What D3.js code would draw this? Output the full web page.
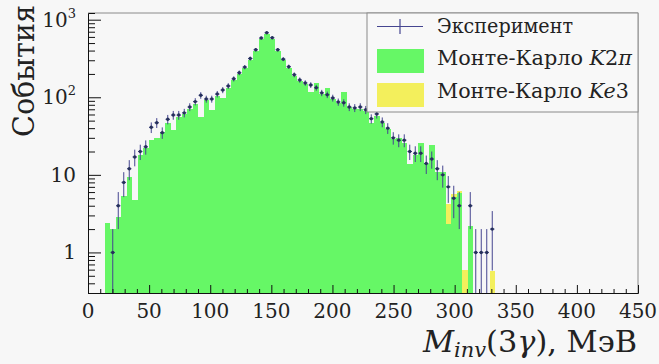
<!DOCTYPE html>
<html>
<head>
<meta charset="utf-8">
<script src="https://cdn.jsdelivr.net/npm/d3@7"></script>
<style>
  html, body { margin: 0; padding: 0; background: #f7f7f7; }
  svg { display: block; }
  text { font-family: "DejaVu Serif", "Liberation Serif", "Noto Serif", "Times New Roman", serif; fill: #222; }
</style>
</head>
<body>
<div id="chart"></div>
<script>
// lower edge of each 4.5 MeV bin, MeV
const binLow = [13.5, 18, 22.5, 27, 31.5, 36, 40.5, 45, 49.5, 54, 58.5, 63, 67.5, 72, 76.5,
  81, 85.5, 90, 94.5, 99, 103.5, 108, 112.5, 117, 121.5, 126, 130.5, 135, 139.5, 144, 148.5,
  153, 157.5, 162, 166.5, 171, 175.5, 180, 184.5, 189, 193.5, 198, 202.5, 207, 211.5, 216,
  220.5, 225, 229.5, 234, 238.5, 243, 247.5, 252, 256.5, 261, 265.5, 270, 274.5, 279, 283.5,
  288, 292.5, 297, 301.5, 306, 310.5, 315, 319.5, 324, 328.5];
const binWidth = 4.5;

// experiment (events per bin)
const expCounts = [0, 1, 4, 8, 12, 17, 20, 23, 41, 47, 35, 52, 59, 59, 63,
  75, 88, 106, 95, 95, 110, 124, 140, 173, 207, 245, 316, 410, 580, 680, 585,
  410, 310, 248, 195, 167, 153, 144, 133, 114, 108, 98, 87, 85, 75, 73,
  75, 69, 53, 61, 48, 40, 30, 28, 28, 20, 19, 19, 14, 16, 12,
  10, 7, 5, 4, 0, 4, 1, 1, 1, 2];

// Monte-Carlo K2pi
const mcK2pi = [2.4, 2.0, 2.9, 5.3, 9.3, 4.7, 18, 22, 28, 30, 36, 46, 38, 55, 60,
  70, 82, 55, 92, 68, 104, 98, 132, 165, 200, 238, 305, 400, 560, 660, 570,
  400, 300, 240, 190, 160, 148, 118, 155, 110, 133, 95, 84, 117, 74, 70,
  70, 66, 46, 58, 46, 39, 29, 30, 26, 14, 18, 26, 14, 24, 11,
  11, 2.3, 5.2, 5.8, 0, 2.2, 0, 0, 0, 0];

// Monte-Carlo Ke3 (stacked on top)
const mcKe3 = [0, 0, 0, 0, 0, 0, 0, 0, 0, 0, 0, 0, 0, 0, 0,
  0, 0, 0, 0, 0, 0, 0, 0, 0, 0, 0, 0, 0, 0, 0, 0,
  0, 0, 0, 0, 0, 0, 0, 0, 0, 0, 0, 0, 0, 0, 0,
  0, 0, 0, 0, 0, 0, 0, 0, 0, 0, 0, 0, 0, 0, 0,
  0, 1.9, 0.4, 0.4, 0.6, 0, 0, 0, 0, 0.58];

const xTicks = [0, 50, 100, 150, 200, 250, 300, 350, 400, 450];
const yTickValues = [1, 10, 100, 1000];
const yTickBase = ["1", "10", "10", "10"];
const yTickExp = ["", "", "2", "3"];
const legendLabels = ["Эксперимент", "Монте-Карло ", "Монте-Карло "];

const W = 659, H = 364;
const margin = { top: 13, right: 21, bottom: 71, left: 88 };
const width = W - margin.left - margin.right;
const height = H - margin.top - margin.bottom;
const green = "#66f766", yellow = "#f3ef5c", dataColor = "#454590";
const yMin = 0.3, yMax = 1220;

const svg = d3.select("#chart").append("svg")
  .attr("width", W).attr("height", H);

const g = svg.append("g")
  .attr("transform", `translate(${margin.left},${margin.top})`);

const x = d3.scaleLinear().domain([0, 450]).range([0, width]);
const y = d3.scaleLog().domain([yMin, yMax]).range([height, 0]);

const bins = binLow.map((lo, i) => ({
  lo, hi: lo + binWidth, n: expCounts[i], k2pi: mcK2pi[i], ke3: mcKe3[i]
}));

// K2pi histogram
g.append("g").selectAll("rect")
  .data(bins.filter(d => d.k2pi > yMin))
  .join("rect")
  .attr("x", d => x(d.lo))
  .attr("width", d => x(d.hi) - x(d.lo) + 0.3)
  .attr("y", d => y(d.k2pi))
  .attr("height", d => height - y(d.k2pi))
  .attr("fill", green)
  .attr("shape-rendering", "crispEdges");

// Ke3 stacked
g.append("g").selectAll("rect")
  .data(bins.filter(d => d.ke3 > 0))
  .join("rect")
  .attr("x", d => x(d.lo))
  .attr("width", d => x(d.hi) - x(d.lo))
  .attr("y", d => y(d.k2pi + d.ke3))
  .attr("height", d => y(Math.max(d.k2pi, yMin)) - y(d.k2pi + d.ke3))
  .attr("fill", yellow)
  .attr("shape-rendering", "crispEdges");

// experiment points with errors
const pts = g.append("g").selectAll("g")
  .data(bins.filter(d => d.n > 0))
  .join("g");

pts.append("line")
  .attr("x1", d => x(d.lo) + 0.5).attr("x2", d => x(d.hi) - 0.5)
  .attr("y1", d => y(d.n)).attr("y2", d => y(d.n))
  .attr("stroke", dataColor).attr("stroke-width", 1);

pts.append("line")
  .attr("x1", d => x(d.lo + binWidth / 2)).attr("x2", d => x(d.lo + binWidth / 2))
  .attr("y1", d => y(Math.max(d.n - Math.sqrt(d.n), yMin)))
  .attr("y2", d => y(d.n + Math.sqrt(d.n)))
  .attr("stroke", dataColor).attr("stroke-width", 1);

pts.append("circle")
  .attr("cx", d => x(d.lo + binWidth / 2))
  .attr("cy", d => y(d.n))
  .attr("r", 1.7)
  .attr("fill", "#25305a");

// frame
g.append("path")
  .attr("d", `M0,0H${width}V${height}`)
  .attr("fill", "none").attr("stroke", "#8a8a8a").attr("stroke-width", 1);

// x axis (ticks inside)
const xAxisG = g.append("g")
  .attr("transform", `translate(0,${height})`)
  .call(d3.axisBottom(x).tickValues(d3.range(0, 451, 10)).tickSize(-4).tickFormat(""));
xAxisG.selectAll(".tick line")
  .attr("y2", d => xTicks.includes(d) ? -8 : -4);
xAxisG.select(".domain").attr("stroke", "#111");
xAxisG.selectAll(".tick line").attr("stroke", "#111");

g.append("g").selectAll("text")
  .data(xTicks)
  .join("text")
  .attr("x", d => x(d))
  .attr("y", height + 25)
  .attr("text-anchor", "middle")
  .attr("font-size", 20)
  .text(d => d);

// y axis (log, ticks inside)
const minor = [];
for (let p = -1; p <= 3; p++) {
  for (let m = 1; m <= 9; m++) {
    const v = m * Math.pow(10, p);
    if (v >= yMin && v <= yMax) minor.push(v);
  }
}
const yAxisG = g.append("g")
  .call(d3.axisLeft(y).tickValues(minor).tickSize(-7).tickFormat(""));
yAxisG.selectAll(".tick line")
  .attr("x2", d => yTickValues.includes(d) ? 13 : 7)
  .attr("stroke", "#111");
yAxisG.select(".domain").attr("stroke", "#111");

const yLab = g.append("g").selectAll("text")
  .data(yTickValues)
  .join("text")
  .attr("x", -12)
  .attr("y", d => y(d) + 7)
  .attr("text-anchor", "end")
  .attr("font-size", 20);
yLab.append("tspan").text((d, i) => yTickBase[i]);
yLab.append("tspan")
  .attr("dy", -9).attr("font-size", 13)
  .text((d, i) => yTickExp[i]);

// axis titles
svg.append("text")
  .attr("transform", "translate(34,71) rotate(-90)")
  .attr("text-anchor", "middle")
  .attr("font-size", 29)
  .attr("textLength", 132).attr("lengthAdjust", "spacingAndGlyphs")
  .text("События");

const xt = svg.append("text")
  .attr("x", 423).attr("y", 352)
  .attr("font-size", 29)
  .attr("textLength", 214).attr("lengthAdjust", "spacingAndGlyphs");
xt.append("tspan").attr("font-style", "italic").text("M");
xt.append("tspan").attr("font-style", "italic").attr("font-size", 20).attr("dy", 5).text("inv");
xt.append("tspan").attr("dy", -5).text("(3");
xt.append("tspan").attr("font-style", "italic").text("γ");
xt.append("tspan").text("), МэВ");

// legend
const lg = svg.append("g");
lg.append("rect")
  .attr("x", 367).attr("y", 13).attr("width", 271).attr("height", 99)
  .attr("fill", "#f8f8f8").attr("stroke", "#8a8a8a").attr("stroke-width", 1);

lg.append("line").attr("x1", 377).attr("x2", 423).attr("y1", 26.5).attr("y2", 26.5)
  .attr("stroke", dataColor).attr("stroke-width", 1.2);
lg.append("line").attr("x1", 400).attr("x2", 400).attr("y1", 19).attr("y2", 34)
  .attr("stroke", dataColor).attr("stroke-width", 1.2);
lg.append("rect").attr("x", 377).attr("y", 49).attr("width", 47).attr("height", 24).attr("fill", green);
lg.append("rect").attr("x", 377).attr("y", 83).attr("width", 47).attr("height", 24).attr("fill", yellow);

const legY = [33, 65, 98];
const legLen = [136, 195, 192];
legendLabels.forEach((t, i) => {
  const tx = lg.append("text").attr("x", 437).attr("y", legY[i]).attr("font-size", 20)
    .attr("textLength", legLen[i]).attr("lengthAdjust", "spacingAndGlyphs")
    .text(t);
  if (i === 1) {
    tx.append("tspan").attr("font-style", "italic").text("K");
    tx.append("tspan").text("2");
    tx.append("tspan").attr("font-style", "italic").text("π");
  } else if (i === 2) {
    tx.append("tspan").attr("font-style", "italic").text("Ke");
    tx.append("tspan").text("3");
  }
});
</script>
</body>
</html>
